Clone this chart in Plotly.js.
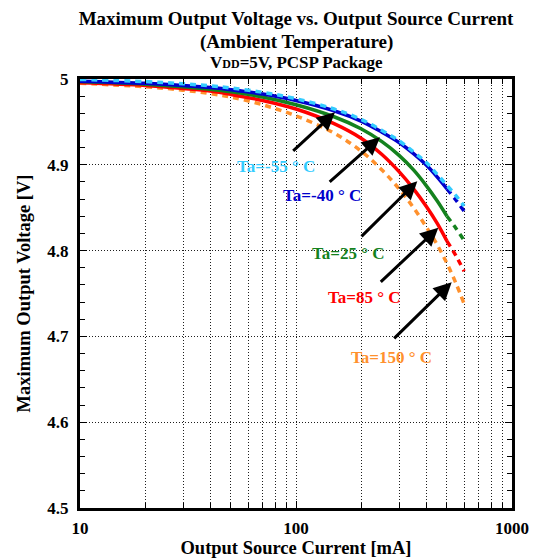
<!DOCTYPE html>
<html>
<head>
<meta charset="utf-8">
<script src="https://cdn.plot.ly/plotly-3.0.1.min.js"></script>
<style>html,body{margin:0;padding:0;background:#fff;}#chart{width:536px;height:559px;}</style>
</head>
<body>
<div id="chart"></div>
<script>
// Output source current [mA]
const currents = [10, 20, 30, 40, 50, 70, 100, 150, 200, 250, 300, 350, 400, 450, 500];
const currentsExt = [500, 550, 600];
const currentsAll = [10, 20, 30, 40, 50, 70, 100, 150, 200, 250, 300, 350, 400, 450, 500, 550, 600];

// Maximum output voltage [V]
const vMinus55 = [4.9995, 4.997, 4.9945, 4.992, 4.9895, 4.9845, 4.977, 4.965, 4.953, 4.940, 4.928, 4.915, 4.903, 4.889, 4.876, 4.864, 4.852];
const vMinus40 = [4.9975, 4.995, 4.9925, 4.990, 4.9875, 4.9825, 4.975, 4.963, 4.951, 4.938, 4.926, 4.913, 4.900, 4.886, 4.872];
const vMinus40Ext = [4.872, 4.859, 4.846];
const v25 = [4.997, 4.994, 4.991, 4.988, 4.985, 4.979, 4.970, 4.956, 4.942, 4.927, 4.911, 4.894, 4.876, 4.858, 4.840];
const v25Ext = [4.840, 4.826, 4.812];
const v85 = [4.9955, 4.9925, 4.989, 4.986, 4.982, 4.975, 4.965, 4.948, 4.931, 4.912, 4.892, 4.872, 4.852, 4.832, 4.811];
const v85Ext = [4.811, 4.794, 4.776];
const v150 = [4.995, 4.991, 4.987, 4.983, 4.979, 4.970, 4.957, 4.937, 4.916, 4.894, 4.872, 4.850, 4.828, 4.807, 4.785, 4.762, 4.738];

// Labels
const seriesLabels = ['Ta=-55 ° C', 'Ta=-40 ° C', 'Ta=25 ° C', 'Ta=85 ° C', 'Ta=150 ° C'];
const xTickVals = [10, 100, 1000];
const xTickText = ['10', '100', '1000'];
const xMinorVals = [20, 30, 40, 50, 60, 70, 80, 90, 200, 300, 400, 500, 600, 700, 800, 900];

const C_CYAN = 'rgb(51,204,255)';
const C_BLUE = 'rgb(0,0,204)';
const C_GREEN = 'rgb(20,130,30)';
const C_RED = 'rgb(255,0,0)';
const C_ORANGE = 'rgb(255,145,45)';
const FONT = 'Liberation Serif, Times New Roman, serif';
const DOTS = '6px,5px';
const GRIDDOT = '1px,2px';
const LW = 3.5;

const traces = [
  {x: currentsAll, y: v150, mode: 'lines', line: {color: C_ORANGE, width: LW, dash: DOTS, shape: 'spline'}},
  {x: currents, y: v85, mode: 'lines', line: {color: C_RED, width: LW, shape: 'spline'}},
  {x: currentsExt, y: v85Ext, mode: 'lines', line: {color: C_RED, width: LW, dash: DOTS, shape: 'spline'}},
  {x: currents, y: v25, mode: 'lines', line: {color: C_GREEN, width: LW, shape: 'spline'}},
  {x: currentsExt, y: v25Ext, mode: 'lines', line: {color: C_GREEN, width: LW, dash: DOTS, shape: 'spline'}},
  {x: currents, y: vMinus40, mode: 'lines', line: {color: C_BLUE, width: LW, shape: 'spline'}},
  {x: currentsExt, y: vMinus40Ext, mode: 'lines', line: {color: C_BLUE, width: LW, dash: DOTS, shape: 'spline'}},
  {x: currentsAll, y: vMinus55, mode: 'lines', line: {color: C_CYAN, width: LW, dash: DOTS, shape: 'spline'}}
].map(t => Object.assign(t, {showlegend: false, hoverinfo: 'skip'}));

// label positions (log10 current, voltage) and arrow start/tip
const labelPos = [[1.908, 4.898], [2.119, 4.864], [2.245, 4.797], [2.315, 4.745], [2.444, 4.675]];
const labelColors = [C_CYAN, C_BLUE, C_GREEN, C_RED, C_ORANGE];
const arrowStart = [[1.980, 4.9147], [2.149, 4.8786], [2.2963, 4.8149], [2.3856, 4.7620], [2.4477, 4.6960]];
const arrowTip = [[2.1806, 4.9613], [2.3889, 4.9322], [2.5616, 4.8809], [2.6588, 4.8266], [2.7208, 4.7632]];

const annotations = [];
for (let i = 0; i < 5; i++) {
  annotations.push({
    x: arrowTip[i][0], y: arrowTip[i][1], xref: 'x', yref: 'y',
    ax: arrowStart[i][0], ay: arrowStart[i][1], axref: 'x', ayref: 'y',
    text: '', showarrow: true, arrowhead: 2, arrowsize: 1.2, arrowwidth: 3, arrowcolor: 'black',
    standoff: 0, startstandoff: 0
  });
  annotations.push({
    x: labelPos[i][0], y: labelPos[i][1], xref: 'x', yref: 'y',
    text: '<b>' + seriesLabels[i] + '</b>', showarrow: false,
    font: {family: FONT, size: 17, color: labelColors[i]}
  });
}
annotations.push({
  x: 0.5, y: 1.0862, xref: 'paper', yref: 'paper', yanchor: 'middle', xanchor: 'center', showarrow: false,
  text: '<b>(Ambient Temperature)</b>', font: {family: FONT, size: 19, color: 'black'}
});
annotations.push({
  x: 0.5, y: 1.0396, xref: 'paper', yref: 'paper', yanchor: 'middle', xanchor: 'center', showarrow: false,
  text: '<b>V<span style="font-size:12px">DD</span>=5V, PCSP Package</b>', font: {family: FONT, size: 17, color: 'black'}
});

const layout = {
  width: 536, height: 559,
  margin: {l: 80, r: 24, t: 79, b: 51},
  paper_bgcolor: '#fff', plot_bgcolor: '#fff',
  font: {family: FONT, color: 'black'},
  title: {
    text: '<b>Maximum Output Voltage vs. Output Source Current</b>',
    font: {family: FONT, size: 19, color: 'black'},
    x: 0.5, xref: 'paper', xanchor: 'center', y: 0.9678, yref: 'container', yanchor: 'middle'
  },
  xaxis: {
    type: 'log', range: [1, 3],
    tickvals: xTickVals, ticktext: xTickText,
    ticks: 'inside', ticklen: 7, tickwidth: 1, tickcolor: 'black',
    showline: true, linewidth: 3, linecolor: 'black', mirror: 'ticks',
    showgrid: true, gridcolor: 'rgb(30,30,30)', gridwidth: 1, griddash: GRIDDOT,
    zeroline: false, ticklabelstandoff: 3,
    tickfont: {family: FONT, size: 17, color: 'black', weight: 'bold'},
    minor: {tickvals: xMinorVals, ticks: 'inside', ticklen: 5, tickcolor: 'black', showgrid: true, gridcolor: 'rgb(30,30,30)', gridwidth: 1, griddash: GRIDDOT},
    title: {text: '<b>Output Source Current [mA]</b>', font: {family: FONT, size: 18.5, color: 'black'}, standoff: 4}
  },
  yaxis: {
    range: [4.5, 5], dtick: 0.1, tick0: 4.5,
    ticks: 'inside', ticklen: 7, tickwidth: 1, tickcolor: 'black',
    showline: true, linewidth: 3, linecolor: 'black', mirror: 'ticks',
    showgrid: true, gridcolor: 'rgb(30,30,30)', gridwidth: 1, griddash: GRIDDOT,
    zeroline: false, ticklabelstandoff: 5,
    tickfont: {family: FONT, size: 17, color: 'black', weight: 'bold'},
    minor: {dtick: 0.02, ticks: 'inside', ticklen: 5, tickcolor: 'black', showgrid: false},
    title: {text: '<b>Maximum Output Voltage [V]</b>', font: {family: FONT, size: 18.5, color: 'black'}, standoff: 12}
  },
  annotations: annotations
};

Plotly.newPlot('chart', traces, layout, {displayModeBar: false, staticPlot: true});
</script>
</body>
</html>
